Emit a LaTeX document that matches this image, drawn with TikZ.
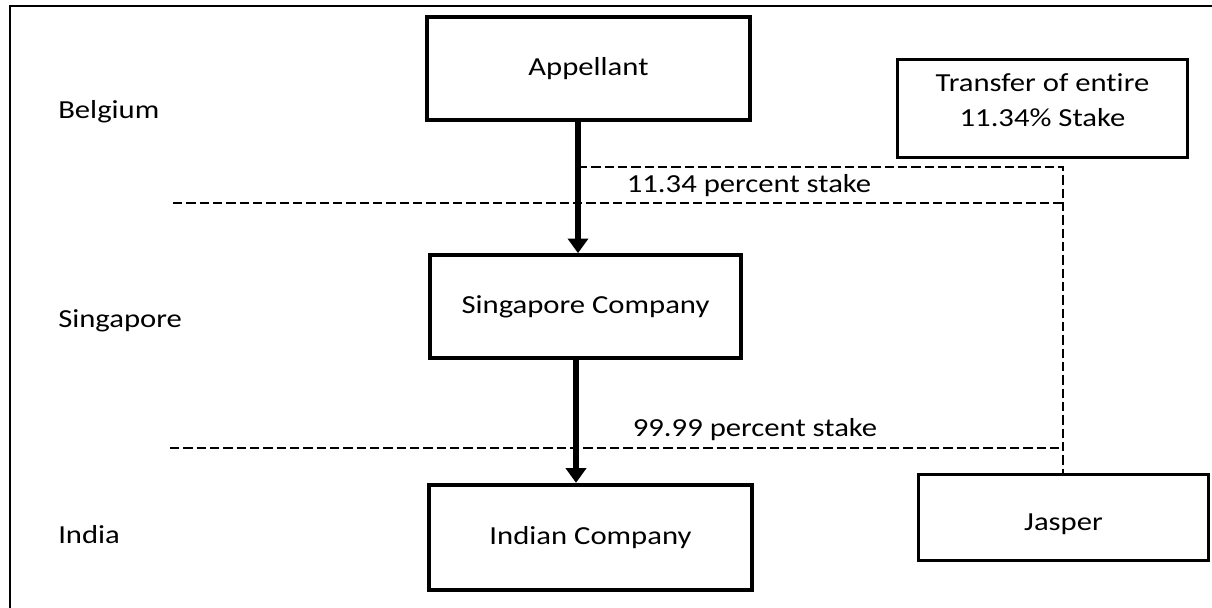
\documentclass[tikz,border=0pt]{standalone}
\usepackage{fontspec}
\setmainfont{Carlito}[FakeStretch=1.18, Ligatures={NoCommon}]
\usetikzlibrary{arrows.meta}
\tikzset{
  heavybox/.style={draw, line width=3pt, rectangle, inner sep=0pt, align=center},
  lightbox/.style={draw, line width=2.2pt, rectangle, inner sep=0pt, align=center},
  dashline/.style={line width=1.8pt, dash pattern=on 7pt off 3pt},
  arr/.style={line width=4.5pt, -{Triangle[width=15pt,length=11pt]}},
  region/.style={anchor=west, inner sep=0pt},
  stake/.style={inner sep=0pt},
  frame/.style={line width=2.2pt}
}
\begin{document}
\begin{tikzpicture}[x=0.75pt, y=-0.75pt, font=\fontsize{19.5}{26}\selectfont]
\useasboundingbox (0,0) rectangle (1212,607);
% outer frame (partly cut off)
\coordinate (fbl) at (10,620);
\coordinate (ftl) at (10,6);
\coordinate (ftr) at (1225,6);
\draw[frame] (fbl) -- (ftl) -- (ftr);
% boxes
\node[heavybox, minimum width=242pt, minimum height=77pt] (app) at (588.5,68.5) {Appellant};
\node[heavybox, minimum width=233pt, minimum height=77pt] (sing) at (585.5,306.5) {Singapore Company};
\node[heavybox, minimum width=242pt, minimum height=79pt] (ind) at (590.5,537.5) {Indian Company};
\node[lightbox, minimum width=218pt, minimum height=74pt, text depth=13pt] (trans) at (1042.5,108.5) {Transfer of entire\\11.34\% Stake};
\node[lightbox, minimum width=218pt, minimum height=65pt, text height=22pt] (jas) at (1063.5,517.5) {Jasper};
% region labels
\node[region] (bel) at (58,112) {Belgium};
\node[region] (sgl) at (58,321) {Singapore};
\node[region] (inl) at (58,535) {India};
% stake labels
\node[stake] (s1) at (749,186) {11.34 percent stake};
\node[stake] (s2) at (755,430) {99.99 percent stake};
% helper coordinates
\coordinate (a1) at (578,0);
\coordinate (a2) at (576,0);
\coordinate (lA) at (1063,167);
\coordinate (lBs) at (173,203);
\coordinate (lBe) at (1063,203);
\coordinate (lCs) at (170,448);
\coordinate (lCe) at (1063,448);
% dashed lines
\draw[dashline] (a1 |- lA) -- (lA) -- (jas.north -| lA);
\draw[dashline] (lBs) -- (lBe);
\draw[dashline] (lCs) -- (lCe);
% arrows
\draw[arr] (app.south -| a1) -- (sing.north -| a1);
\draw[arr] (sing.south -| a2) -- (ind.north -| a2);
\end{tikzpicture}
\end{document}
